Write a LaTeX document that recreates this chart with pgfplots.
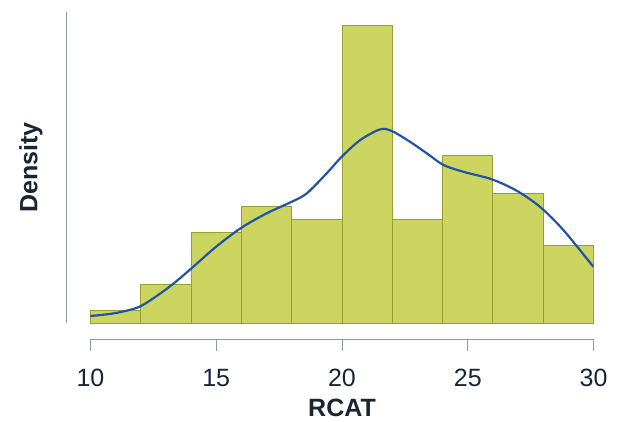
\documentclass[border=0pt]{standalone}
\usepackage{pgfplots}
\pgfplotsset{compat=1.18}
\usepackage{fontspec}
\setmainfont{Liberation Sans}
\definecolor{barfill}{RGB}{203,213,96}
\definecolor{baredge}{RGB}{152,160,48}
\definecolor{kde}{RGB}{33,84,166}
\definecolor{spine}{RGB}{140,152,166}
\definecolor{txt}{RGB}{28,35,51}
\begin{document}
\begin{tikzpicture}
\begin{axis}[
 scale only axis, width=503pt, height=311.3pt,
 xmin=10, xmax=30, ymin=0, ymax=0.1368,
 axis x line*=bottom, axis y line*=left,
 axis x line shift=16pt, axis y line shift=24.5pt,
 axis line style={spine, line width=0.8pt},
 xtick={10,15,20,25,30}, ytick=\empty, minor tick num=0,
 tick align=outside, major tick length=12pt,
 every tick/.style={spine, line width=0.8pt},
 xticklabel style={font=\fontsize{25}{30}\selectfont, text=txt, yshift=-14pt},
 /pgf/number format/assume math mode=true,
 xlabel={RCAT}, ylabel={Density},
 label style={font=\bfseries\fontsize{25}{30}\selectfont, text=txt, inner sep=0pt},
 xlabel style={at={(axis description cs:0.5,-0.2995)}, anchor=base},
 ylabel style={at={(axis description cs:-0.10577,0.5)}, anchor=base},
 clip=false,
]
\addplot[ybar interval, fill=barfill, draw=baredge, line width=1pt] coordinates {
 (10,0.00568) (12,0.01705) (14,0.03977) (16,0.05114) (18,0.04545)
 (20,0.13068) (22,0.04545) (24,0.07386) (26,0.05682) (28,0.03409) (30,0)
};
\addplot[kde, line width=2.2pt, smooth, no marks] coordinates {
 (10,0.0032) (11,0.0045) (11.95,0.0073) (12.76,0.0130) (13.36,0.0180)
 (14.02,0.0242) (15.0,0.0337) (16.0,0.0420) (17.0,0.0483) (18.0,0.0534)
 (18.6,0.0571) (19.39,0.0659) (19.99,0.0732) (20.72,0.0805) (21.51,0.0852)
 (21.98,0.0845) (22.7,0.0798) (23.37,0.0747) (24.03,0.0696) (24.82,0.0666)
 (25.95,0.0633) (26.94,0.0583) (27.87,0.0512) (28.8,0.0410) (29.99,0.0249)
};
\end{axis}
\pgfresetboundingbox
\path (-90.5pt,-98.7pt) rectangle (527.5pt,323.3pt);
\end{tikzpicture}
\end{document}
